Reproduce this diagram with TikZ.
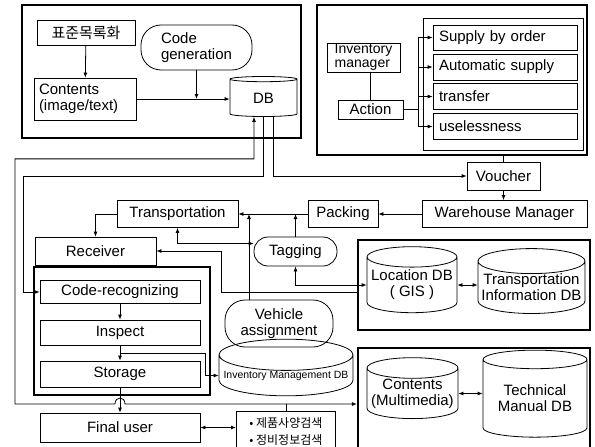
\documentclass[tikz,border=0pt]{standalone}
\usepackage{fontspec}
\setmainfont{Liberation Sans}
\newfontfamily\kor{Noto Sans CJK KR}
\usetikzlibrary{positioning,shapes.geometric,arrows.meta}

\begin{document}
\begin{tikzpicture}[x=1pt, y=-1pt,
    font=\fontsize{15}{16}\selectfont,
    box/.style={draw, line width=0.8pt, inner sep=0pt, align=center},
    panel/.style={draw, line width=2.2pt, inner sep=0pt},
    pill/.style={box, rounded corners=14pt},
    dbcyl/.style={draw, line width=0.8pt, cylinder, shape border rotate=90, aspect=0.25, inner sep=0pt, align=center},
    link/.style={line width=0.8pt},
    arr/.style={-{Latex[length=5pt,width=4pt]}, line width=0.8pt},
    dbl/.style={{Latex[length=5pt,width=4pt]}-{Latex[length=5pt,width=4pt]}, line width=0.8pt}
]
    \path[use as bounding box, clip] (0,0) rectangle (595,447);

    % DB panel
    \node[panel, minimum width=279, minimum height=133] (pdb) at (161.5,71.5) {};
    \node[box, minimum width=98, minimum height=25, font=\kor\fontsize{15}{16}\selectfont] (std) at (86,32.5) {표준목록화};
    \node[box, minimum width=102, minimum height=42, align=left, text width=92] (cont) at (85,99) {Contents\\(image/text)};
    \node[pill, minimum width=111, minimum height=45, rounded corners=20pt, align=left] (codegen) at (196.5,47.5) {Code\\generation};
    \node[dbcyl, minimum width=67, minimum height=40] (db) at (263.5,98) {DB};

    % inventory panel
    \node[panel, minimum width=270, minimum height=150] (pinv) at (452,80) {};
    \node[box, minimum width=160, minimum height=132] (plist) at (503,84) {};
    \node[box, minimum width=144, minimum height=25, align=left, text width=132] (sbo) at (505,37.5) {Supply by order};
    \node[box, minimum width=144, minimum height=26, align=left, text width=132] (auto) at (505,67) {Automatic supply};
    \node[box, minimum width=144, minimum height=26, align=left, text width=132] (trf) at (505,96.5) {transfer};
    \node[box, minimum width=144, minimum height=26, align=left, text width=132] (useless) at (505,126.5) {uselessness};
    \node[box, minimum width=73, minimum height=29, align=left, font=\fontsize{14}{14}\selectfont] (invmgr) at (363.5,57.5) {Inventory\\manager};
    \node[box, minimum width=65, minimum height=19] (action) at (370.5,109.5) {Action};

    % flow
    \node[box, minimum width=73, minimum height=28] (voucher) at (503.5,176) {Voucher};
    \node[box, minimum width=165, minimum height=27] (whm) at (504.5,214) {Warehouse Manager};
    \node[box, minimum width=70, minimum height=27] (packing) at (343,214) {Packing};
    \node[box, minimum width=121, minimum height=27] (trans) at (177.5,214) {Transportation};
    \node[box, minimum width=121, minimum height=28] (recv) at (95.5,251) {Receiver};
    \node[pill, minimum width=83, minimum height=29] (tag) at (295.5,251.5) {Tagging};

    % warehouse panel
    \node[panel, minimum width=176, minimum height=128] (pwh) at (122,331) {};
    \node[box, minimum width=160, minimum height=23] (coderec) at (120,292) {Code-recognizing};
    \node[box, minimum width=160, minimum height=25] (inspect) at (120,332.5) {Inspect};
    \node[box, minimum width=160, minimum height=26] (storage) at (120,374) {Storage};
    \node[box, minimum width=160, minimum height=29] (finaluser) at (120,427.5) {Final user};

    \node[pill, minimum width=108, minimum height=47, rounded corners=20pt] (vehicle) at (279,323.5) {Vehicle\\assignment};
    \node[dbcyl, minimum width=134, minimum height=39, font=\fontsize{10.5}{11}\selectfont] (invdb) at (286,375.5) {Inventory Management DB};
    \node[box, minimum width=99, minimum height=40, anchor=north west, align=left, font=\kor\fontsize{12}{17}\selectfont] (search) at (236,411) {• 제품사양검색\\• 정비정보검색};

    % location panel
    \node[panel, minimum width=232, minimum height=90] (ploc) at (474,285) {};
    \node[dbcyl, minimum width=90, minimum height=66] (locdb) at (412,285) {Location DB\\( GIS )};
    \node[dbcyl, minimum width=107, minimum height=61] (tidb) at (531.5,287.5) {Transportation\\Information DB};

    % manual panel
    \node[panel, minimum width=232, minimum height=110] (pman) at (474,403) {};
    \node[dbcyl, minimum width=91, minimum height=57] (cmdb) at (412.5,393.5) {Contents\\(Multimedia)};
    \node[dbcyl, minimum width=104, minimum height=87] (tmdb) at (535,398.5) {Technical\\Manual DB};

    \coordinate (loopsw) at (15,404);

    % connectors in the DB panel
    \draw[arr] (std) -- (cont);
    \draw[arr] (cont.east) -- (cont.east -| db.west);
    \draw[arr] (codegen.south) -- (codegen.south |- cont.east);

    % inventory manager actions
    \draw[link] (action.north |- invmgr.south) -- (action.north);
    \draw[link] (action.east) -- ++(15,0) coordinate (bus);
    \draw[link] (bus |- sbo.west) -- (bus |- useless.west);
    \foreach \n in {sbo,auto,trf,useless}
        \draw[arr] (bus |- \n.west) -- (\n.west);

    % DB links
    \draw[arr] ([xshift=9.5pt]db.south) |- (voucher.west);
    \draw[arr] ([xshift=-0.5pt]db.south) -- ++(0,60) -- ++(-240,0) |- (coderec.west);
    \draw[dbl] ([xshift=-9.5pt]db.south) -- ++(0,42) -| (loopsw) -- (115,404)
        .. controls (115,396) and (125,396) .. (125,404) -- (loopsw -| pman.west);
    \draw[link] (search.north) -- (search.north |- loopsw);

    % shipping flow
    \draw[link] (voucher.north |- pinv.south) -- (voucher.north);
    \draw[arr] (voucher.south) -- (voucher.south |- whm.north);
    \draw[arr] (whm.west) -- (packing.east);
    \draw[arr] (packing.west) -- (trans.east);
    \draw[arr] (trans.west) -| (recv.north);
    \draw[arr] (tag.north) -- (tag.north |- packing.west);
    \draw[arr] ([xshift=-30pt]vehicle.north) -- ([xshift=-30pt]vehicle.north |- trans.east);
    \draw[dbl] (trans.south) |- ([yshift=8pt]tag.west);
    \draw[dbl] (tag.south) |- (locdb.west);
    \draw[arr] ([yshift=-7pt]ploc.west) -- ++(-136,0) |- (recv.east);
    \draw[dbl] (locdb.east) -- (locdb.east -| tidb.west);
    \draw[dbl] (cmdb.east) -- (cmdb.east -| tmdb.west);

    % receiving
    \draw[arr] (coderec) -- (inspect);
    \draw[arr] (inspect) -- (storage);
    \draw[arr] (storage) -- (finaluser);
    \draw[arr] ([yshift=-8pt]inspect.south) -- ++(85,0) |- (invdb.west);
    \draw[dbl] (finaluser.east) -- (finaluser.east -| search.west);

\end{tikzpicture}
\end{document}
